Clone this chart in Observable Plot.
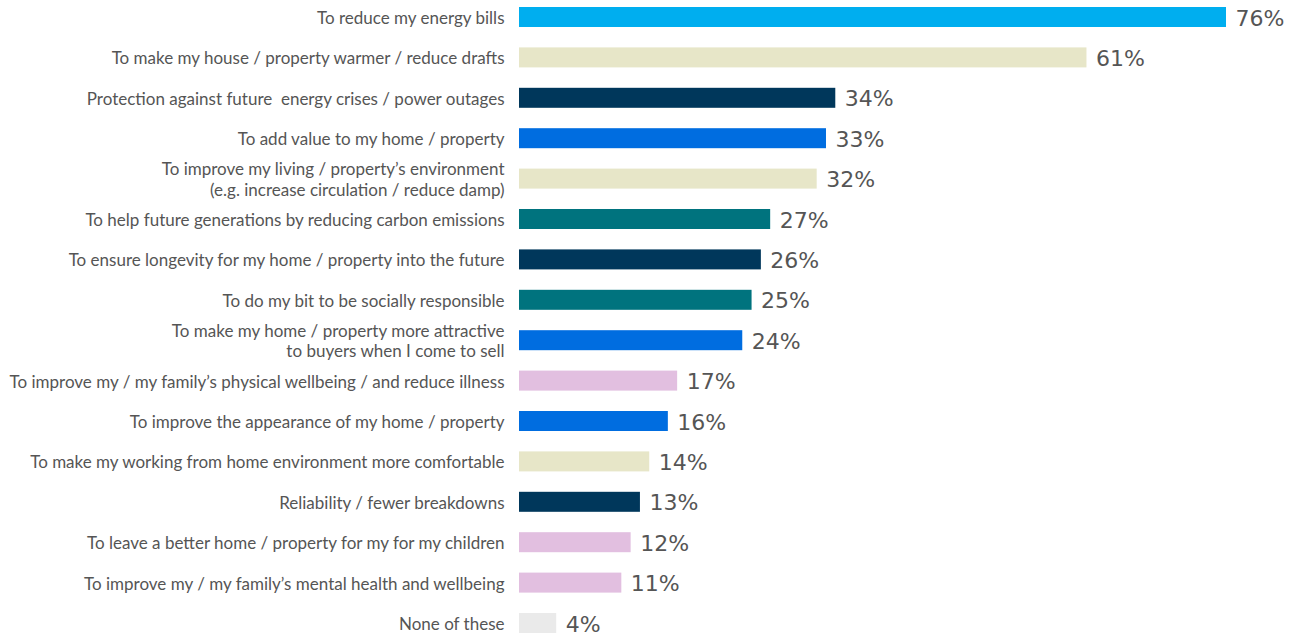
<!DOCTYPE html>
<html>
<head>
<meta charset="utf-8">
<script src="https://cdn.jsdelivr.net/npm/d3@7"></script>
<script src="https://cdn.jsdelivr.net/npm/@observablehq/plot@0.6"></script>
<style>
  html, body { margin: 0; padding: 0; background: #fff; }
  #chart svg { display: block; }
  #chart text { white-space: pre; }
</style>
</head>
<body>
<div id="chart"></div>
<script>
const categories = [
  "To reduce my energy bills",
  "To make my house / property warmer / reduce drafts",
  "Protection against future  energy crises / power outages",
  "To add value to my home / property",
  "To improve my living / property’s environment\n(e.g. increase circulation / reduce damp)",
  "To help future generations by reducing carbon emissions",
  "To ensure longevity for my home / property into the future",
  "To do my bit to be socially responsible",
  "To make my home / property more attractive\nto buyers when I come to sell",
  "To improve my / my family’s physical wellbeing / and reduce illness",
  "To improve the appearance of my home / property",
  "To make my working from home environment more comfortable",
  "Reliability / fewer breakdowns",
  "To leave a better home / property for my for my children",
  "To improve my / my family’s mental health and wellbeing",
  "None of these"
];
const values = [76, 61, 34, 33, 32, 27, 26, 25, 24, 17, 16, 14, 13, 12, 11, 4];
const groups = ["cost", "comfort", "security", "value", "comfort", "environment", "security", "environment",
                "value", "wellbeing", "value", "comfort", "security", "wellbeing", "wellbeing", "none"];
const groupNames = ["cost", "comfort", "security", "value", "environment", "wellbeing", "none"];
const groupColors = ["#00AEEF", "#E7E6C8", "#00375B", "#006DE0", "#00737E", "#E2BFE0", "#EAEAEA"];

const data = categories.map((c, i) => ({category: c, value: values[i], group: groups[i]}));

const chart = Plot.plot({
  width: 1296,
  height: 636,
  marginLeft: 519,
  marginRight: 70,
  marginTop: 7,
  marginBottom: 3,
  style: {fontFamily: "Lato, sans-serif", color: "#555", background: "#fff"},
  x: {domain: [0, 76], axis: null},
  y: {domain: categories, paddingInner: 0.505, paddingOuter: 0, align: 0, round: false},
  color: {domain: groupNames, range: groupColors},
  marks: [
    Plot.barX(data, {x: "value", y: "category", fill: "group"}),
    Plot.text(data, {
      x: "value", y: "category", text: d => d.value + "%",
      textAnchor: "start", dx: 9, dy: 1,
      fontSize: 22, fill: "#555",
      fontFamily: "DejaVu Sans, sans-serif"
    }),
    Plot.axisY({
      tickSize: 0, tickPadding: 15, fontSize: 17, lineHeight: 1.18,
      label: null, fill: "#555"
    })
  ]
});
document.getElementById("chart").appendChild(chart);
</script>
</body>
</html>
